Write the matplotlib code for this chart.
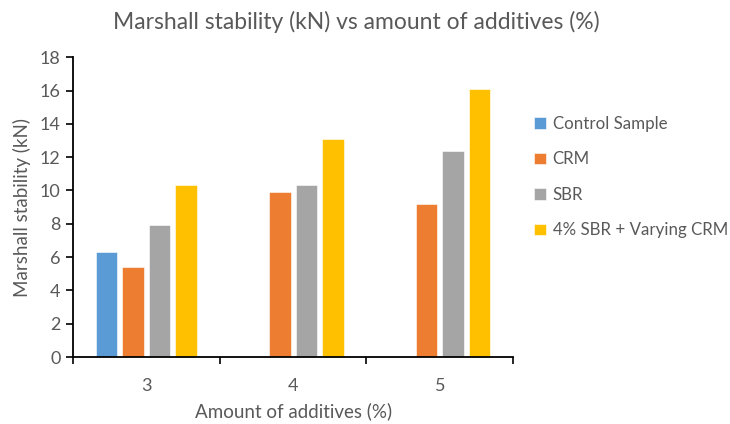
import numpy as np
import matplotlib
matplotlib.use("Agg")
import matplotlib.pyplot as plt

plt.rcParams['font.family'] = ['Lato', 'DejaVu Sans']

categories = ["3", "4", "5"]
control_sample = [6.3, np.nan, np.nan]
crm = [5.4, 9.9, 9.2]
sbr = [7.9, 10.3, 12.4]
sbr_varying_crm = [10.3, 13.1, 16.1]

series_names = ["Control Sample", "CRM", "SBR", "4% SBR + Varying CRM"]
series_values = [control_sample, crm, sbr, sbr_varying_crm]
colors = ["#5B9BD5", "#ED7D31", "#A5A5A5", "#FFC000"]
text_color = "#595959"

fig = plt.figure(figsize=(7.30, 4.24), dpi=100)
ax = fig.add_axes([0.100, 0.158, 0.603, 0.707])

x = np.arange(len(categories))
slot = 0.181
width = 0.147
for i, (name, vals, c) in enumerate(zip(series_names, series_values, colors)):
    ax.bar(x + (i - 1.5) * slot, vals, width=width, color=c, label=name,
           edgecolor="white", linewidth=0.4)

ax.set_xlim(-0.5, len(categories) - 0.5)
ax.set_ylim(0, 18)
ax.set_yticks(np.arange(0, 19, 2))
ax.set_xticks(x)
ax.set_xticklabels(categories)
ax.set_xticks(np.arange(-0.5, len(categories), 1), minor=True)

for side in ("top", "right"):
    ax.spines[side].set_visible(False)
for side in ("left", "bottom"):
    ax.spines[side].set_color("black")
    ax.spines[side].set_linewidth(1.3)

ax.tick_params(axis="y", direction="out", length=5, width=1.2, color="black",
               labelcolor=text_color, labelsize=13, pad=4)
ax.tick_params(axis="x", which="major", length=0, labelcolor=text_color,
               labelsize=13, pad=15)
ax.tick_params(axis="x", which="minor", direction="out", length=5, width=1.2,
               color="black")

ax.set_xlabel("Amount of additives (%)", color=text_color, fontsize=13.5, labelpad=6)
ax.set_ylabel("Marshall stability (kN)", color=text_color, fontsize=13.5, labelpad=6)

fig.text(0.488, 0.948, "Marshall stability (kN) vs amount of additives (%)",
         ha="center", va="center", color=text_color, fontsize=16.5)

leg = ax.legend(loc="center left", bbox_to_anchor=(1.032, 0.60), frameon=False,
                fontsize=12.2, handlelength=0.7, handleheight=0.7,
                handletextpad=0.4, labelspacing=1.15, labelcolor=text_color,
                borderaxespad=0)

fig.savefig("out.png", dpi=100)
